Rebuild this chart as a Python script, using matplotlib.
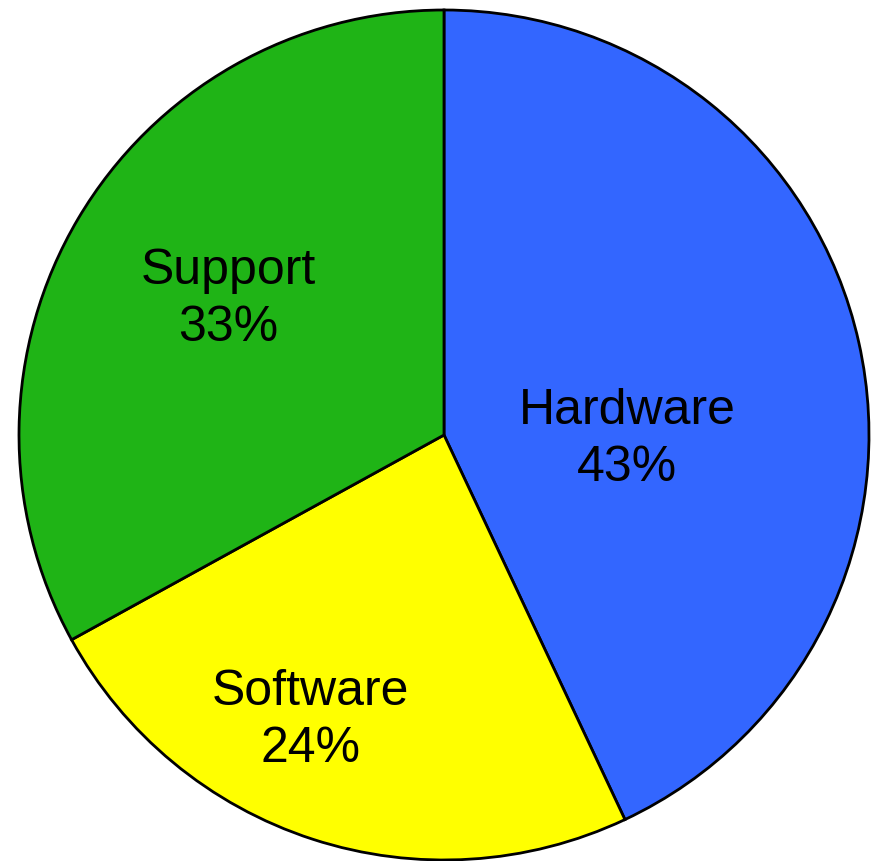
import matplotlib
matplotlib.use("Agg")
import matplotlib.pyplot as plt

categories = ["Hardware", "Software", "Support"]
shares = [43, 24, 33]
colors = ["#3366FF", "#FFFF00", "#1FB416"]
# label anchor points in axes data units (pie radius = 1)
label_xy = [(0.431, -0.008), (-0.315, -0.669), (-0.508, 0.322)]

W, H = 876, 862
fig = plt.figure(figsize=(W / 100, H / 100), dpi=100)
cx, cy, r = 444, 436, 425
ax = fig.add_axes([(cx - r) / W, (H - cy - r) / H, 2 * r / W, 2 * r / H])

wedges, _ = ax.pie(
    shares,
    colors=colors,
    startangle=90,
    counterclock=False,
    radius=1,
    wedgeprops=dict(edgecolor="black", linewidth=2.0),
)
ax.set_xlim(-1.0, 1.0)
ax.set_ylim(-1.0, 1.0)
ax.set_aspect("equal")
ax.axis("off")

total = sum(shares)
for name, val, (x, y) in zip(categories, shares, label_xy):
    ax.text(x, y, f"{name}\n{round(100 * val / total)}%",
            ha="center", va="center", multialignment="center",
            fontsize=36, family="Liberation Sans", linespacing=1.31)

fig.savefig("out.png", dpi=100)
